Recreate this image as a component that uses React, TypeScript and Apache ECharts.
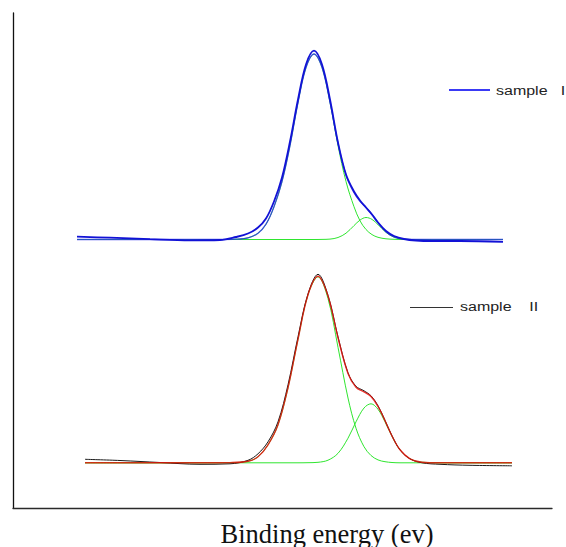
import { useEffect, useRef } from "react";
import * as echarts from "echarts";

// Energy channel of each sampled point (arbitrary binding-energy scale)
const SAMPLE_I_ENERGY = [64, 97, 137, 177, 207, 223, 235, 245, 253, 261, 269, 277, 285, 293, 301, 309, 317, 325, 333, 341, 347, 353, 359, 365, 373, 381, 391, 403, 419, 447, 490];
const SAMPLE_I_RAW = [2.8, 1.8, 0.3, -0.8, -0.5, 2.5, 6, 12, 21, 38, 62, 98, 140, 175, 188.8, 175, 140, 97, 65, 48, 39, 32, 25, 17, 8.5, 3.5, 0.5, -1, -1.5, -1.5, -2.3];
const SAMPLE_I_FIT = [0, 0, 0, 0, 0, 0.3, 1.7, 6.3, 15.3, 32.8, 58, 94, 137, 172, 185.5, 172.1, 137.4, 96, 64.3, 46.7, 38.1, 32, 25, 17.1, 7.8, 2.5, 0.3, 0, 0, 0, 0];
const SAMPLE_I_PEAK_A = [0, 0, 0, 0, 0, 0.3, 1.7, 6.3, 15.3, 32.8, 58, 94, 137, 172, 185.5, 172, 137, 94, 58, 32.8, 18.7, 10, 4.9, 2.2, 0.7, 0.2, 0, 0, 0, 0, 0];
const SAMPLE_I_PEAK_B = [0, 0, 0, 0, 0, 0, 0, 0, 0, 0, 0, 0, 0, 0, 0, 0.1, 0.4, 2, 6.3, 13.9, 19.4, 22, 20.1, 14.9, 7.1, 2.3, 0.3, 0, 0, 0, 0];

const SAMPLE_II_ENERGY = [72, 107, 147, 187, 217, 235, 245, 255, 265, 275, 285, 295, 305, 315, 325, 335, 343, 351, 358, 365, 372, 379, 387, 397, 409, 427, 457, 499];
const SAMPLE_II_RAW = [3.5, 2.3, 0.3, -1.5, -1, 2.5, 9, 21, 41, 78, 126, 169, 188.5, 167.5, 126, 90, 76.5, 72, 67, 57, 42.5, 27, 13, 4, 0, -1.5, -2.5, -3];
const SAMPLE_II_FIT = [0, 0, 0, 0, 0.2, 1.5, 6, 18, 38, 75, 123.5, 168, 186.5, 166.8, 125, 89.4, 75.6, 70.9, 66.3, 56.4, 42.1, 26.8, 13, 4, 0.6, 0, 0, 0];
const SAMPLE_II_PEAK_A = [0, 0, 0, 0, 0.2, 1.5, 6, 18, 38, 75, 123.5, 168, 186, 164.2, 115.5, 64.8, 34.6, 16.1, 7.3, 2.9, 1.1, 0.3, 0, 0, 0, 0, 0, 0];
const SAMPLE_II_PEAK_B = [0, 0, 0, 0, 0, 0, 0, 0, 0, 0, 0, 0.1, 0.5, 2.6, 9.5, 24.6, 41, 54.8, 59, 53.5, 41, 26.5, 13, 4, 0.6, 0, 0, 0];

// Vertical stacking offsets of the two spectra
const SAMPLE_I_OFFSET = 268.5;
const SAMPLE_II_OFFSET = 45.2;

const LEGEND_I = "sample   I";
const LEGEND_II = "sample    II";
const X_TITLE = "Binding energy (ev)";

const GREEN = "#2fe52f";

function curve(
  name: string,
  xs: number[],
  ys: number[],
  offset: number,
  color: string,
  width: number,
  z: number,
  opacity = 1
) {
  return {
    type: "line",
    name,
    data: xs.map((x, i) => [x, offset + ys[i]]),
    symbol: "none",
    showSymbol: false,
    smooth: 0.35,
    silent: true,
    z,
    lineStyle: { color, width, opacity },
  };
}

export default function App() {
  const ref = useRef<HTMLDivElement>(null);

  useEffect(() => {
    const chart = echarts.init(ref.current!, null, { renderer: "svg" });
    chart.setOption({
      animation: false,
      backgroundColor: "#ffffff",
      grid: { left: 13, right: 14, top: 13, bottom: 39 },
      xAxis: {
        type: "value",
        min: 0,
        max: 539,
        axisLine: { show: true, onZero: false, lineStyle: { color: "#2a2a2a", width: 1.3 } },
        axisTick: { show: false },
        axisLabel: { show: false },
        splitLine: { show: false },
      },
      yAxis: {
        type: "value",
        min: 0,
        max: 495,
        axisLine: { show: true, onZero: false, lineStyle: { color: "#111111", width: 1.3 } },
        axisTick: { show: false },
        axisLabel: { show: false },
        splitLine: { show: false },
      },
      series: [
        curve("sample I peak A", SAMPLE_I_ENERGY, SAMPLE_I_PEAK_A, SAMPLE_I_OFFSET, GREEN, 1, 1),
        curve("sample I peak B", SAMPLE_I_ENERGY, SAMPLE_I_PEAK_B, SAMPLE_I_OFFSET, GREEN, 1, 1),
        curve("sample I fit", SAMPLE_I_ENERGY, SAMPLE_I_FIT, SAMPLE_I_OFFSET, "#2424ee", 1.3, 2, 0.75),
        curve("sample I", SAMPLE_I_ENERGY, SAMPLE_I_RAW, SAMPLE_I_OFFSET, "#1212d6", 1.8, 3),
        curve("sample II peak A", SAMPLE_II_ENERGY, SAMPLE_II_PEAK_A, SAMPLE_II_OFFSET, GREEN, 1, 1),
        curve("sample II peak B", SAMPLE_II_ENERGY, SAMPLE_II_PEAK_B, SAMPLE_II_OFFSET, GREEN, 1, 1),
        curve("sample II", SAMPLE_II_ENERGY, SAMPLE_II_RAW, SAMPLE_II_OFFSET, "#1a1a1a", 1, 2),
        curve("sample II fit", SAMPLE_II_ENERGY, SAMPLE_II_FIT, SAMPLE_II_OFFSET, "#e3120b", 1.4, 3, 0.85),
      ],
      graphic: [
        {
          type: "line",
          shape: { x1: 449, y1: 90, x2: 490, y2: 90 },
          style: { stroke: "#3a3af5", lineWidth: 2 },
        },
        {
          type: "text",
          x: 496,
          y: 91,
          scaleX: 1.28,
          style: {
            text: LEGEND_I,
            fontFamily: "Liberation Sans",
            fontSize: 12.5,
            fill: "#222222",
            verticalAlign: "middle",
          },
        },
        {
          type: "line",
          shape: { x1: 410, y1: 307.5, x2: 453, y2: 307.5 },
          style: { stroke: "#333333", lineWidth: 1 },
        },
        {
          type: "text",
          x: 460,
          y: 307,
          scaleX: 1.28,
          style: {
            text: LEGEND_II,
            fontFamily: "Liberation Sans",
            fontSize: 12.5,
            fill: "#222222",
            verticalAlign: "middle",
          },
        },
        {
          type: "text",
          x: 327,
          y: 533.5,
          style: {
            text: X_TITLE,
            fontFamily: "Liberation Serif",
            fontSize: 26.5,
            fill: "#111111",
            align: "center",
            verticalAlign: "middle",
          },
        },
      ],
    });
    return () => chart.dispose();
  }, []);

  return (
    <div
      ref={ref}
      style={{ position: "absolute", left: 0, top: 0, width: 566, height: 547, background: "#ffffff" }}
    />
  );
}
